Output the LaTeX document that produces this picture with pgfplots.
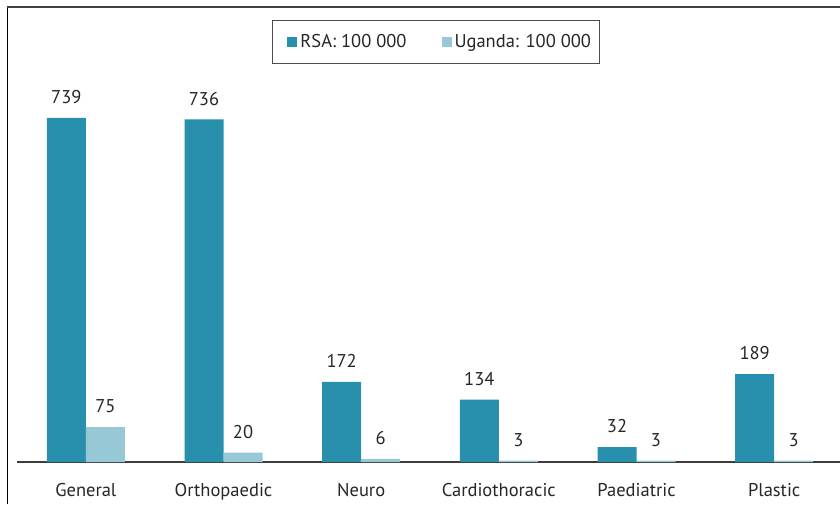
\documentclass[border=0pt]{standalone}
\usepackage{pgfplots}
\pgfplotsset{compat=1.18}
\usepackage{fontspec}
\setmainfont{PT Sans}
\definecolor{rsa}{RGB}{40,143,173}
\definecolor{uga}{RGB}{150,200,214}
\definecolor{axisgray}{RGB}{60,60,60}
\begin{document}
\begin{tikzpicture}[x=1pt,y=1pt]
\draw[black, line width=1pt] (7,0) -- (7,497);
\draw[black!75, line width=1.3pt] (6.5,497) -- (845,497);
\begin{axis}[
  at={(17pt,42pt)}, anchor=south west,
  scale only axis, width=826pt, height=419pt,
  xmin=-0.5, xmax=5.5, ymin=0, ymax=900,
  ybar=0pt, bar width=39pt,
  /pgf/number format/assume math mode=true,
  axis x line*=bottom, axis y line=none,
  x axis line style={-, line width=1.2pt, color=axisgray},
  xtick={0,1,2,3,4,5},
  xticklabels={General,Orthopaedic,Neuro,Cardiothoracic,Paediatric,Plastic},
  xtick style={draw=none},
  xticklabel style={font=\fontsize{18.5}{22}\selectfont, text=black!85, yshift=-13.5pt},
  nodes near coords,
  nodes near coords style={font=\fontsize{18.5}{22}\selectfont, text=black!85, yshift=10.5pt},
  legend columns=2,
  legend style={at={(0.3087,1.055)}, anchor=north west, draw=black!70, line width=1pt,
    font=\fontsize{18.5}{22}\selectfont, text=black!85, inner xsep=6pt, inner ysep=12pt,
    /tikz/every even column/.append style={column sep=24pt}},
  legend image code/.code={\path (0pt,0pt) (20pt,0pt); \fill[#1] (9pt,-5pt) rectangle (19pt,5pt);},
]
\addplot[fill=rsa, draw=none] coordinates {(0,739) (1,736) (2,172) (3,134) (4,32) (5,189)};
\addplot[fill=uga, draw=none] coordinates {(0,75) (1,20) (2,6) (3,3) (4,3) (5,3)};
\legend{RSA: 100 000, Uganda: 100 000}
\end{axis}
\pgfresetboundingbox
\path[use as bounding box] (0,0) rectangle (840,504);
\end{tikzpicture}
\end{document}
